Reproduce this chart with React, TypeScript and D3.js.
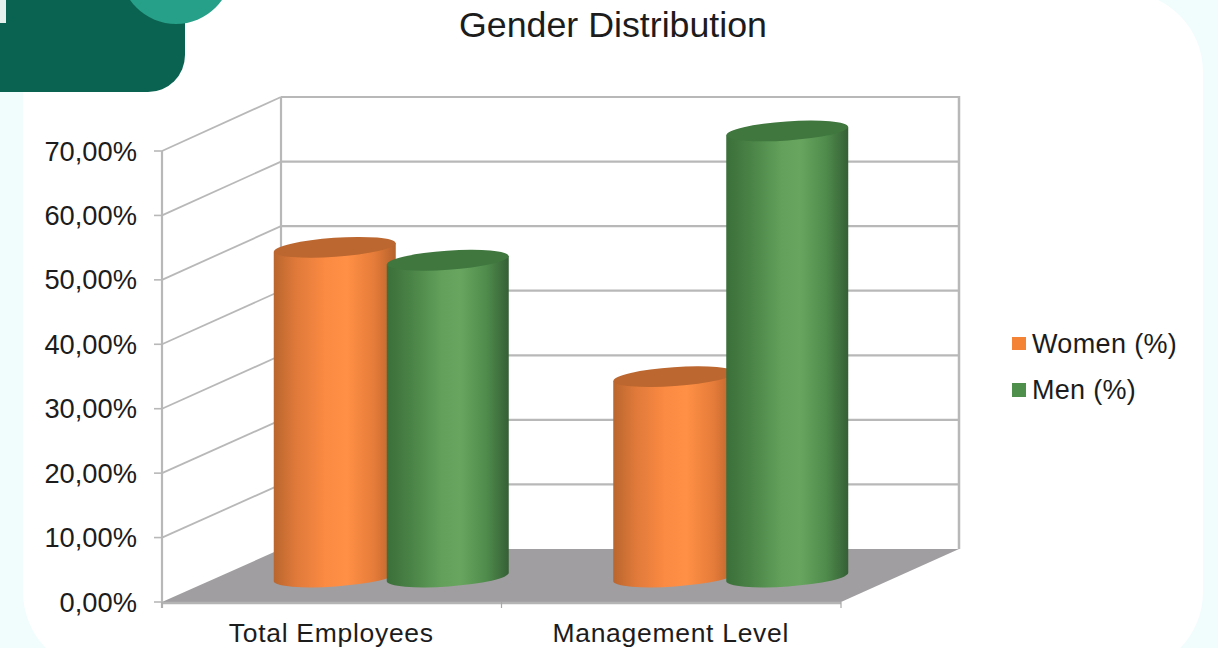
import React from "react";
import * as d3 from "d3";

// Chart values
const categories = ["Total Employees", "Management Level"];
const seriesNames = ["Women (%)", "Men (%)"];
const womenValues = [51, 31];
const menValues = [49, 69];
const yTicks = [0, 10, 20, 30, 40, 50, 60, 70];

const W = 1218;
const H = 648;
const FONT = "'Liberation Sans', Arial, sans-serif";

// Projection of the 3D plot box
const frontLeft = 162;
const frontRight = 841;
const backLeft = 281;
const backRight = 959;
const depthX = backLeft - frontLeft;

const yFront = d3.scaleLinear().domain([0, 70]).range([602, 151]);
const yBack = d3.scaleLinear().domain([0, 70]).range([549, 97]);
const yMid = d3.scaleLinear().domain([0, 70]).range([577, 124.5]);

const xFront = d3.scaleBand<string>().domain(categories).range([frontLeft, frontRight]);
const xMid = d3
  .scaleBand<string>()
  .domain(categories)
  .range([frontLeft + depthX / 2, frontRight + depthX / 2]);

const series = d3
  .scaleBand<string>()
  .domain(seriesNames)
  .range([-113, 113]);

const formatPct = (v: number) => v.toFixed(2).replace(".", ",") + "%";

const RX = 61;
const RY = 9.5;
const TILT = -4;
const TILT_DY = 4.3;

function cylinderBody(cx: number, top: number, bottom: number) {
  const p = d3.path();
  p.moveTo(cx - RX, top + TILT_DY);
  p.lineTo(cx - RX, bottom + TILT_DY);
  const body = p.toString();
  return `${body} A ${RX} ${RY} ${TILT} 0 0 ${cx + RX} ${bottom - TILT_DY} L ${cx + RX} ${top - TILT_DY} Z`;
}

const gradients = [
  {
    id: "womenBody",
    stops: [
      [0, "#b9662e"],
      [0.18, "#df793a"],
      [0.42, "#fb8a42"],
      [0.6, "#ff9045"],
      [0.82, "#e67c3a"],
      [1, "#b5622c"],
    ],
  },
  {
    id: "menBody",
    stops: [
      [0, "#3b6f3a"],
      [0.2, "#4a8346"],
      [0.45, "#62a05b"],
      [0.6, "#68a660"],
      [0.82, "#4f8b4b"],
      [1, "#355f36"],
    ],
  },
];

function Cylinder({
  cx,
  value,
  body,
  cap,
}: {
  cx: number;
  value: number;
  body: string;
  cap: string;
}) {
  const top = yMid(value);
  const bottom = yMid(0);
  return (
    <g>
      <path d={cylinderBody(cx, top, bottom)} fill={`url(#${body})`} />
      <ellipse
        cx={cx}
        cy={top}
        rx={RX}
        ry={RY}
        fill={cap}
        transform={`rotate(${TILT} ${cx} ${top})`}
      />
    </g>
  );
}

export default function App() {
  const gridColor = "#b8b8b8";
  const textColor = "#1c1c1c";
  return (
    <svg
      width={W}
      height={H}
      viewBox={`0 0 ${W} ${H}`}
      style={{ position: "fixed", left: 0, top: 0, display: "block" }}
    >
      <defs>
        {gradients.map((g) => (
          <linearGradient key={g.id} id={g.id} x1="0" x2="1" y1="0" y2="0">
            {g.stops.map(([o, c]) => (
              <stop key={o as number} offset={o as number} stopColor={c as string} />
            ))}
          </linearGradient>
        ))}
      </defs>

      {/* Page backdrop and card */}
      <rect width={W} height={H} fill="#f1fdfd" />
      <rect x={23} y={-8} width={1180} height={680} rx={80} ry={80} fill="#ffffff" />

      {/* Corner badge */}
      <path d="M0 0 H185 V55 A37 37 0 0 1 148 92 H0 Z" fill="#0a6351" />
      <circle cx={176} cy={-32} r={56} fill="#26a088" />
      <path d="M0 0 H6 V23 H0 Z" fill="#e4f1ed" />

      <text
        x={613}
        y={37}
        textAnchor="middle"
        fontFamily={FONT}
        fontSize={35.8}
        fill={textColor}
        textLength={308}
        lengthAdjust="spacingAndGlyphs"
      >
        Gender Distribution
      </text>

      {/* Floor */}
      <path
        d={`M${frontLeft} ${yFront(0)} L${backLeft} ${yBack(0)} L${backRight} ${yBack(0)} L${frontRight} ${yFront(0)} Z`}
        fill="#a09ea0"
      />
      <line x1={frontLeft} x2={frontRight} y1={yFront(0) + 1} y2={yFront(0) + 1} stroke="#b4b4b4" strokeWidth={2.5} />

      {/* Walls and gridlines */}
      <g stroke={gridColor} strokeWidth={2.2} fill="none">
        {yTicks.map((t) =>
          t === 0 ? null : (
            <g key={t}>
              <line x1={frontLeft} y1={yFront(t)} x2={backLeft} y2={yBack(t)} strokeWidth={1.8} />
              <line x1={backLeft} y1={yBack(t)} x2={backRight} y2={yBack(t)} />
            </g>
          )
        )}
        <line x1={frontLeft} y1={yFront(70)} x2={frontLeft} y2={yFront(0) + 6} />
        <line x1={backLeft} y1={yBack(70)} x2={backLeft} y2={yBack(0)} />
        <line x1={backRight} y1={yBack(70) - 1} x2={backRight} y2={yBack(0)} strokeWidth={2.5} />
        {yTicks.map((t) => (
          <line key={t} x1={frontLeft - 8} x2={frontLeft} y1={yFront(t)} y2={yFront(t)} strokeWidth={1.6} />
        ))}
        {[frontLeft, frontLeft + (frontRight - frontLeft) / 2, frontRight].map((x) => (
          <line key={x} x1={x} x2={x} y1={yFront(0)} y2={yFront(0) + 6} strokeWidth={1.2} stroke="#a8a8a8" />
        ))}
      </g>

      {/* Cylinders */}
      {categories.map((c, i) => {
        const center = xMid(c)! + xMid.bandwidth() / 2;
        const offset = (name: string) =>
          center + series(name)! + series.bandwidth() / 2;
        return (
          <g key={c}>
            <Cylinder cx={offset(seriesNames[0])} value={womenValues[i]} body="womenBody" cap="#bb672f" />
            <Cylinder cx={offset(seriesNames[1])} value={menValues[i]} body="menBody" cap="#3f773e" />
          </g>
        );
      })}

      {/* Value axis labels */}
      {yTicks.map((t) => (
        <text
          key={t}
          x={137}
          y={yFront(t) + 9.5}
          textAnchor="end"
          fontFamily={FONT}
          fontSize={27.3}
          fill={textColor}
        >
          {formatPct(t)}
        </text>
      ))}

      {/* Category labels */}
      {categories.map((c) => (
        <text
          key={c}
          x={xFront(c)! + xFront.bandwidth() / 2 - 0.5}
          y={642}
          textAnchor="middle"
          fontFamily={FONT}
          fontSize={26.5}
          letterSpacing={0.7}
          fill={textColor}
        >
          {c}
        </text>
      ))}

      {/* Legend */}
      <rect x={1012} y={337} width={14} height={13} fill="#f58336" />
      <text x={1032} y={353} fontFamily={FONT} fontSize={27} letterSpacing={0.35} fill={textColor}>
        {seriesNames[0]}
      </text>
      <rect x={1012} y={383} width={14} height={14} fill="#4f8f4c" />
      <text x={1032} y={399} fontFamily={FONT} fontSize={27} letterSpacing={0.3} fill={textColor}>
        {seriesNames[1]}
      </text>
    </svg>
  );
}
